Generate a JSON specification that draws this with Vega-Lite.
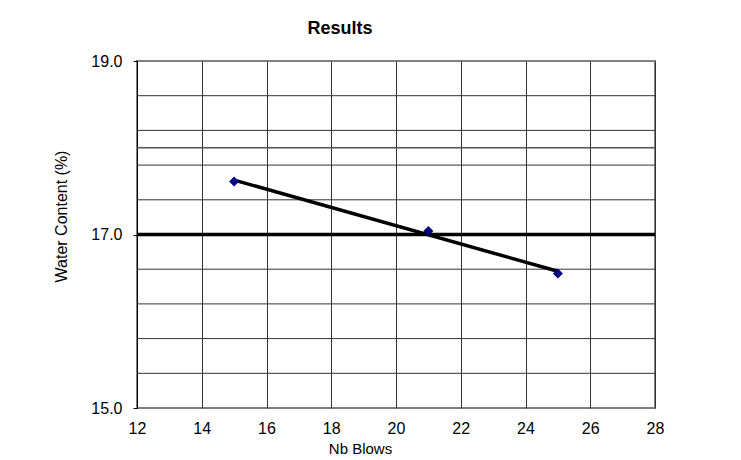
{
  "$schema": "https://vega.github.io/schema/vega-lite/v6.json",
  "autosize": "none",
  "width": 518,
  "height": 347,
  "padding": {"left": 137, "top": 61, "right": 86, "bottom": 52},
  "background": "white",
  "title": {
    "text": "Results",
    "font": "Liberation Sans",
    "fontSize": 18,
    "fontWeight": "bold",
    "color": "black",
    "anchor": "middle",
    "dx": -56,
    "offset": 15
  },
  "config": {
    "view": {"stroke": "#808080", "strokeWidth": 2},
    "font": "Liberation Sans"
  },
  "datasets": {
    "results": [
      {"blows": 15, "water": 17.61},
      {"blows": 21, "water": 17.04},
      {"blows": 25, "water": 16.55}
    ],
    "refs": [
      {"level": 15.4, "kind": "grid"},
      {"level": 15.8, "kind": "grid"},
      {"level": 16.2, "kind": "grid"},
      {"level": 16.6, "kind": "grid"},
      {"level": 17.4, "kind": "grid"},
      {"level": 17.8, "kind": "grid"},
      {"level": 18.2, "kind": "grid"},
      {"level": 18.6, "kind": "grid"},
      {"level": 18.0, "kind": "aux"},
      {"level": 17.0, "kind": "target"}
    ]
  },
  "layer": [
    {
      "data": {"name": "refs"},
      "transform": [{"filter": "datum.kind == 'grid'"}],
      "mark": {"type": "rule", "color": "#333333", "strokeWidth": 1},
      "encoding": {
        "y": {"field": "level", "type": "quantitative", "scale": {"domain": [15, 19], "nice": false, "zero": false}}
      }
    },
    {
      "data": {"name": "refs"},
      "transform": [{"filter": "datum.kind == 'aux'"}],
      "mark": {"type": "rule", "color": "#555555", "strokeWidth": 1.5},
      "encoding": {
        "y": {"field": "level", "type": "quantitative"}
      }
    },
    {
      "data": {"name": "refs"},
      "transform": [{"filter": "datum.kind == 'target'"}],
      "mark": {"type": "rule", "color": "black", "strokeWidth": 3.5},
      "encoding": {
        "y": {"field": "level", "type": "quantitative"}
      }
    },
    {
      "data": {"name": "results"},
      "transform": [{"regression": "water", "on": "blows", "extent": [15, 25]}],
      "mark": {"type": "line", "color": "black", "strokeWidth": 3.5},
      "encoding": {
        "x": {"field": "blows", "type": "quantitative"},
        "y": {"field": "water", "type": "quantitative"}
      }
    },
    {
      "data": {"name": "results"},
      "mark": {"type": "point", "shape": "diamond", "filled": true, "color": "#000080", "size": 100, "opacity": 1},
      "encoding": {
        "x": {
          "field": "blows",
          "type": "quantitative",
          "scale": {"domain": [12, 28], "nice": false, "zero": false},
          "axis": {
            "values": [12, 14, 16, 18, 20, 22, 24, 26, 28],
            "grid": true,
            "gridColor": "#333333",
            "gridWidth": 1,
            "gridOpacity": 1,
            "domain": false,
            "ticks": false,
            "labelOverlap": false,
            "labelFlush": false,
            "labelPadding": 12,
            "labelFontSize": 16,
            "labelColor": "black",
            "labelFont": "Liberation Sans",
            "title": "Nb Blows",
            "titleFont": "Liberation Sans",
            "titleFontSize": 15,
            "titleFontWeight": "normal",
            "titleColor": "black",
            "titleX": 223,
            "titleY": 45,
            "titleAlign": "center",
            "titleBaseline": "alphabetic"
          }
        },
        "y": {
          "field": "water",
          "type": "quantitative",
          "scale": {"domain": [15, 19], "nice": false, "zero": false},
          "axis": {
            "values": [15, 17, 19],
            "format": ".1f",
            "grid": false,
            "labelOverlap": false,
            "labelFlush": false,
            "domain": true,
            "domainColor": "black",
            "domainWidth": 1,
            "tickSize": 4,
            "tickColor": "black",
            "labelPadding": 11,
            "labelFontSize": 16,
            "labelColor": "black",
            "labelFont": "Liberation Sans",
            "title": "Water Content  (%)",
            "titleFont": "Liberation Sans",
            "titleFontSize": 16,
            "titleFontWeight": "normal",
            "titleColor": "black",
            "titleX": -71,
            "titleY": 155,
            "titleAlign": "center",
            "titleBaseline": "alphabetic",
            "titleAngle": -90
          }
        }
      }
    }
  ]
}
